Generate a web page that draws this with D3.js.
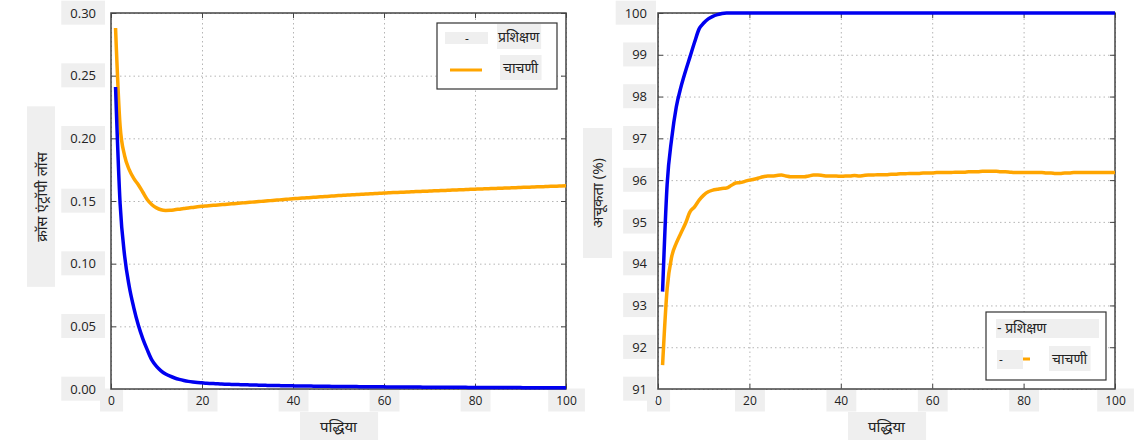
<!DOCTYPE html>
<html>
<head>
<meta charset="utf-8">
<script src="https://cdn.jsdelivr.net/npm/d3@7"></script>
<style>
  body { margin: 0; background: #fff; }
  text { font-family: "Open Sans", "Noto Sans", "Noto Sans Devanagari", "Lohit Devanagari", sans-serif; fill: #222; }
</style>
</head>
<body>
<div id="chart"></div>
<script>
// epochs 1..100
let epochs = d3.range(1, 101);

// cross entropy loss
let trainLoss = [
  0.241, 0.148, 0.106, 0.082, 0.065, 0.051, 0.040, 0.031, 0.023, 0.018,
  0.0145, 0.012, 0.0102, 0.0088, 0.0077, 0.0068, 0.0061, 0.0056, 0.0052, 0.0049,
  0.0046, 0.0044, 0.0042, 0.0040, 0.0038, 0.0037, 0.0036, 0.0035, 0.0034, 0.0033,
  0.0032, 0.0031, 0.0030, 0.0029, 0.0028, 0.0028, 0.0027, 0.0026, 0.0026, 0.0025,
  0.0024, 0.0024, 0.0023, 0.0023, 0.0022, 0.0022, 0.0021, 0.0021, 0.0020, 0.0020,
  0.0020, 0.0019, 0.0019, 0.0019, 0.0018, 0.0018, 0.0018, 0.0017, 0.0017, 0.0017,
  0.0016, 0.0016, 0.0016, 0.0016, 0.0015, 0.0015, 0.0015, 0.0015, 0.0014, 0.0014,
  0.0014, 0.0014, 0.0014, 0.0013, 0.0013, 0.0013, 0.0013, 0.0013, 0.0012, 0.0012,
  0.0012, 0.0012, 0.0012, 0.0012, 0.0011, 0.0011, 0.0011, 0.0011, 0.0011, 0.0011,
  0.0010, 0.0010, 0.0010, 0.0010, 0.0010, 0.0010, 0.0010, 0.0010, 0.0010, 0.0010
];
let testLoss = [
  0.288, 0.210, 0.186, 0.175, 0.168, 0.163, 0.157, 0.151, 0.147, 0.1445,
  0.1430, 0.1425, 0.1426, 0.1430, 0.1435, 0.1440, 0.1444, 0.1449, 0.1454, 0.1458,
  0.1461, 0.1464, 0.1467, 0.1470, 0.1473, 0.1476, 0.1479, 0.1482, 0.1485, 0.1488,
  0.1491, 0.1494, 0.1497, 0.1500, 0.1503, 0.1506, 0.1509, 0.1512, 0.1515, 0.1518,
  0.1520, 0.1523, 0.1525, 0.1528, 0.1530, 0.1533, 0.1535, 0.1538, 0.1540, 0.1543,
  0.1545, 0.1547, 0.1549, 0.1551, 0.1553, 0.1555, 0.1557, 0.1559, 0.1561, 0.1563,
  0.1565, 0.1567, 0.1568, 0.1570, 0.1572, 0.1573, 0.1575, 0.1576, 0.1578, 0.1579,
  0.1581, 0.1582, 0.1584, 0.1585, 0.1587, 0.1588, 0.1590, 0.1591, 0.1593, 0.1594,
  0.1596, 0.1597, 0.1598, 0.1600, 0.1601, 0.1602, 0.1604, 0.1605, 0.1606, 0.1608,
  0.1609, 0.1610, 0.1612, 0.1613, 0.1614, 0.1616, 0.1617, 0.1618, 0.1620, 0.1621
];

// accuracy (%)
let trainAcc = [
  93.33, 95.90, 97.00, 97.75, 98.22, 98.60, 98.95, 99.30, 99.62, 99.76,
  99.86, 99.92, 99.96, 99.99, 100, 100, 100, 100, 100, 100,
  100, 100, 100, 100, 100, 100, 100, 100, 100, 100,
  100, 100, 100, 100, 100, 100, 100, 100, 100, 100,
  100, 100, 100, 100, 100, 100, 100, 100, 100, 100,
  100, 100, 100, 100, 100, 100, 100, 100, 100, 100,
  100, 100, 100, 100, 100, 100, 100, 100, 100, 100,
  100, 100, 100, 100, 100, 100, 100, 100, 100, 100,
  100, 100, 100, 100, 100, 100, 100, 100, 100, 100,
  100, 100, 100, 100, 100, 100, 100, 100, 100, 100
];
let testAcc = [
  91.57, 93.40, 94.17, 94.49, 94.73, 94.96, 95.24, 95.36, 95.52, 95.64,
  95.72, 95.76, 95.78, 95.80, 95.81, 95.87, 95.93, 95.94, 95.97, 96.00,
  96.02, 96.05, 96.08, 96.10, 96.10, 96.11, 96.12, 96.10, 96.08, 96.08,
  96.08, 96.08, 96.10, 96.12, 96.12, 96.11, 96.10, 96.10, 96.10, 96.09,
  96.10, 96.10, 96.11, 96.10, 96.11, 96.12, 96.12, 96.13, 96.13, 96.13,
  96.14, 96.14, 96.15, 96.15, 96.16, 96.16, 96.16, 96.17, 96.17, 96.17,
  96.18, 96.18, 96.18, 96.18, 96.19, 96.19, 96.19, 96.20, 96.20, 96.20,
  96.21, 96.21, 96.21, 96.21, 96.20, 96.20, 96.19, 96.18, 96.18, 96.18,
  96.18, 96.18, 96.18, 96.18, 96.17, 96.17, 96.16, 96.16, 96.17, 96.17,
  96.18, 96.18, 96.18, 96.18, 96.18, 96.18, 96.18, 96.18, 96.18, 96.18
];

let xTicks = [0, 20, 40, 60, 80, 100];
let lossTicks = [0.00, 0.05, 0.10, 0.15, 0.20, 0.25, 0.30];
let accTicks = [91, 92, 93, 94, 95, 96, 97, 98, 99, 100];

let xLabel = "पद्धिया";
let lossLabel = "क्रॉस एंट्रॉपी लॉस";
let accLabel = "अचूकता (%)";
let trainName = "प्रशिक्षण";
let testName = "चाचणी";

let svgWidth = 1145;
let svgHeight = 448;
let boxFill = "#efefef";

let svg = d3.select("#chart")
            .append("svg")
            .attr("width", svgWidth)
            .attr("height", svgHeight);

// puts a light grey box behind each text of a selection
function boxText(texts, px, py) {
    texts.each(function() {
        let b = this.getBBox();
        d3.select(this.parentNode).insert("rect", () => this)
            .attr("x", b.x - px)
            .attr("y", b.y - py)
            .attr("width", b.width + 2 * px)
            .attr("height", b.height + 2 * py)
            .attr("transform", d3.select(this).attr("transform"))
            .attr("fill", boxFill);
    });
}

function panel(opt) {
    let width = opt.right - opt.left;
    let height = opt.bottom - opt.top;
    let g = svg.append("g").attr("transform", `translate(${opt.left}, ${opt.top})`);

    let x = d3.scaleLinear().domain([0, 100]).range([0, width]);
    let y = d3.scaleLinear().domain(opt.yDomain).range([height, 0]);

    // grid
    g.append("g")
        .attr("transform", `translate(0, ${height})`)
        .call(d3.axisBottom(x).tickValues(xTicks).tickSize(-height).tickFormat(""))
        .call(a => a.select(".domain").remove())
        .call(a => a.selectAll("line").attr("stroke", "#b5b5b5").attr("stroke-dasharray", "1.5,3"));
    g.append("g")
        .call(d3.axisLeft(y).tickValues(opt.yTicks).tickSize(-width).tickFormat(""))
        .call(a => a.select(".domain").remove())
        .call(a => a.selectAll("line").attr("stroke", "#b5b5b5").attr("stroke-dasharray", "1.5,3"));

    // inward tick marks on all sides
    let tickStyle = a => a.call(s => s.select(".domain").remove())
                          .call(s => s.selectAll("line").attr("stroke", "#444"));
    g.append("g").attr("transform", `translate(0, ${height})`)
        .call(d3.axisTop(x).tickValues(xTicks).tickSize(5).tickFormat("")).call(tickStyle);
    g.append("g")
        .call(d3.axisBottom(x).tickValues(xTicks).tickSize(5).tickFormat("")).call(tickStyle);
    g.append("g")
        .call(d3.axisRight(y).tickValues(opt.yTicks).tickSize(5).tickFormat("")).call(tickStyle);
    g.append("g").attr("transform", `translate(${width}, 0)`)
        .call(d3.axisLeft(y).tickValues(opt.yTicks).tickSize(5).tickFormat("")).call(tickStyle);

    // tick labels
    let xAxis = g.append("g")
        .attr("transform", `translate(0, ${height})`)
        .call(d3.axisBottom(x).tickValues(xTicks).tickSize(0).tickPadding(7))
        .call(a => a.select(".domain").remove());
    xAxis.selectAll("text").attr("font-size", 12).attr("fill", "#333");
    boxText(xAxis.selectAll("text"), 8, 3);

    let yAxis = g.append("g")
        .call(d3.axisLeft(y).tickValues(opt.yTicks).tickSize(0).tickPadding(opt.yPad).tickFormat(opt.yFormat))
        .call(a => a.select(".domain").remove());
    yAxis.selectAll("text").attr("font-size", 13).attr("fill", "#333");
    boxText(yAxis.selectAll("text"), 9, 3);

    // frame
    g.append("rect")
        .attr("width", width)
        .attr("height", height)
        .attr("fill", "none")
        .attr("stroke", "#444")
        .attr("stroke-width", 1.5);

    // lines
    let line = vals => d3.line()
        .curve(d3.curveMonotoneX)
        .x((d, i) => x(epochs[i]))
        .y(d => y(d))(vals);
    g.append("path")
        .attr("d", line(opt.test))
        .attr("fill", "none")
        .attr("stroke", "#ffa500")
        .attr("stroke-width", 3.5)
        .attr("stroke-linejoin", "round");
    g.append("path")
        .attr("d", line(opt.train))
        .attr("fill", "none")
        .attr("stroke", "#0000f0")
        .attr("stroke-width", 3.5)
        .attr("stroke-linejoin", "round");

    // axis labels
    let xl = g.append("text")
        .attr("x", width / 2)
        .attr("y", height + 43)
        .attr("text-anchor", "middle")
        .attr("font-size", 15)
        .text(xLabel);
    boxText(xl, 20, 4);

    let yl = g.append("text")
        .attr("transform", `translate(${opt.yLabelX}, ${opt.yLabelY}) rotate(-90)`)
        .attr("text-anchor", "middle")
        .attr("font-size", 15)
        .text(opt.yLabel);
    boxText(yl, opt.yLabelPad, 4);

    return {g: g, width: width, height: height};
}

let left = panel({
    left: 111, right: 566, top: 13, bottom: 389,
    yDomain: [0, 0.30], yTicks: lossTicks, yFormat: d3.format(".2f"), yPad: 15,
    train: trainLoss, test: testLoss, yLabel: lossLabel,
    yLabelX: -64, yLabelY: 184, yLabelPad: 45
});

let right = panel({
    left: 658, right: 1115, top: 13, bottom: 389,
    yDomain: [91, 100], yTicks: accTicks, yFormat: d3.format("d"), yPad: 11,
    train: trainAcc, test: testAcc, yLabel: accLabel,
    yLabelX: -55, yLabelY: 180, yLabelPad: 30
});

// legend, loss panel (upper right)
let lg = left.g.append("g").attr("transform", "translate(326, 10)");
lg.append("rect").attr("width", 120).attr("height", 66)
    .attr("fill", "#fff").attr("stroke", "#333").attr("stroke-width", 1.2);
lg.append("rect").attr("x", 8).attr("y", 9).attr("width", 43).attr("height", 12).attr("fill", boxFill);
lg.append("text").attr("x", 30).attr("y", 20).attr("text-anchor", "middle").attr("font-size", 12).text("-");
let lt1 = lg.append("text").attr("x", 61).attr("y", 19).attr("font-size", 14).text(trainName);
boxText(lt1, 1, 3);
lg.append("line").attr("x1", 13).attr("x2", 45).attr("y1", 47).attr("y2", 47)
    .attr("stroke", "#ffa500").attr("stroke-width", 3);
let lt2 = lg.append("text").attr("x", 66).attr("y", 50).attr("font-size", 14).text(testName);
boxText(lt2, 3, 3);

// legend, accuracy panel (lower right)
let rg = right.g.append("g").attr("transform", "translate(328, 299)");
rg.append("rect").attr("width", 120).attr("height", 68)
    .attr("fill", "#fff").attr("stroke", "#333").attr("stroke-width", 1.2);
rg.append("rect").attr("x", 10).attr("y", 7).attr("width", 103).attr("height", 19).attr("fill", boxFill);
rg.append("text").attr("x", 11).attr("y", 21).attr("font-size", 14).text("- " + trainName);
rg.append("rect").attr("x", 11).attr("y", 38).attr("width", 26).attr("height", 19).attr("fill", boxFill);
rg.append("text").attr("x", 13).attr("y", 52).attr("font-size", 12).text("-");
rg.append("line").attr("x1", 37).attr("x2", 44).attr("y1", 47).attr("y2", 47)
    .attr("stroke", "#ffa500").attr("stroke-width", 3);
let rt2 = rg.append("text").attr("x", 66).attr("y", 52).attr("font-size", 14).text(testName);
boxText(rt2, 3, 3);
</script>
</body>
</html>
